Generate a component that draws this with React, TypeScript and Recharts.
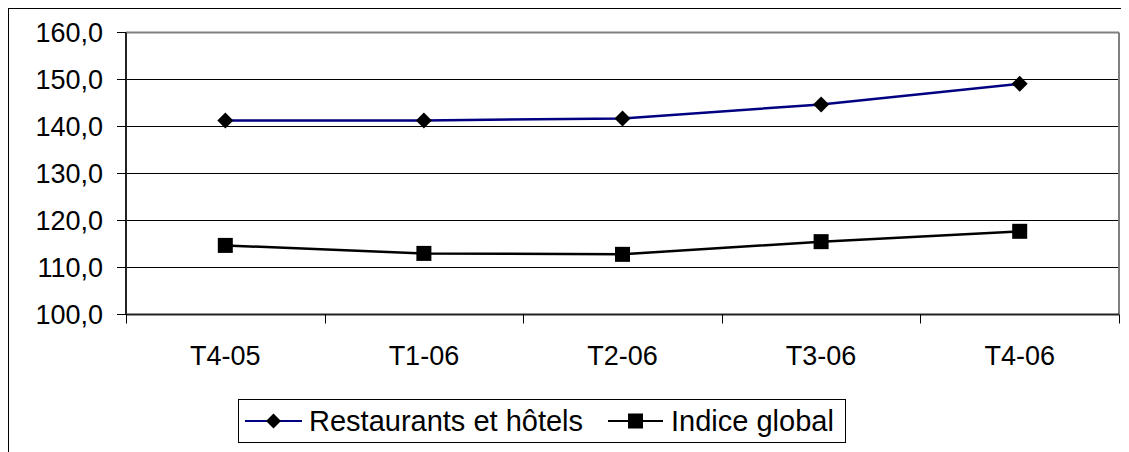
import React from "react";
import { LineChart, Line, XAxis, YAxis, CartesianGrid, ReferenceLine } from "recharts";

const categories = ["T4-05", "T1-06", "T2-06", "T3-06", "T4-06"];
const restaurantsValues = [141.3, 141.3, 141.7, 144.7, 149.1];
const globalValues = [114.7, 113.0, 112.8, 115.5, 117.7];
const yTicks = [100, 110, 120, 130, 140, 150, 160];
const seriesNames = ["Restaurants et hôtels", "Indice global"];

const data = categories.map((c, i) => ({
  cat: c,
  restaurants: restaurantsValues[i],
  global: globalValues[i],
}));

const FONT = "'Liberation Sans', Arial, sans-serif";

const fmt = (v: number) => v.toFixed(1).replace(".", ",");

const Diamond = (p: any) => {
  const { cx, cy, index } = p;
  if (cx == null || cy == null) return <g key={index} />;
  const r = 8;
  return (
    <path
      key={index}
      d={`M${cx},${cy - r}L${cx + r},${cy}L${cx},${cy + r}L${cx - r},${cy}Z`}
      fill="#000"
      stroke="none"
    />
  );
};

const Square = (p: any) => {
  const { cx, cy, index } = p;
  if (cx == null || cy == null) return <g key={index} />;
  const s = 7.5;
  return <rect key={index} x={cx - s} y={cy - s} width={2 * s} height={2 * s} fill="#000" stroke="none" />;
};

const XTick = (p: any) => {
  const { x, y, payload, index } = p;
  const off = payload && payload.offset != null ? payload.offset : 99.3;
  const last = index === categories.length - 1;
  const lx = Math.round(x - off) + 0.5;
  const rx = Math.round(x + off) + 0.5;
  return (
    <g>
      <line x1={lx} x2={lx} y1={y} y2={y + 9} stroke="#000" strokeWidth={1} />
      {last && <line x1={rx} x2={rx} y1={y} y2={y + 9} stroke="#000" strokeWidth={1} />}
      <text x={x} y={y + 50} textAnchor="middle" fontFamily={FONT} fontSize={27} fill="#000">
        {payload.value}
      </text>
    </g>
  );
};

export default function App() {
  return (
    <div
      style={{
        position: "relative",
        width: 1121,
        height: 444,
        boxSizing: "border-box",
        borderTop: "1px solid #000",
        borderLeft: "1px solid #000",
        fontFamily: FONT,
      }}
    >
      <div style={{ position: "absolute", left: -1, top: -1 }}>
        <LineChart
          width={1121}
          height={444}
          data={data}
          margin={{ top: 24.5, right: 10, bottom: 107.5, left: 0 }}
        >
          <CartesianGrid horizontal={true} vertical={false} stroke="#000" strokeWidth={1} />
          <XAxis
            dataKey="cat"
            scale="band"
            height={30}
            tickSize={0}
            tickMargin={0}
            tickLine={false}
            axisLine={{ stroke: "#222", strokeWidth: 2 }}
            tick={<XTick />}
            interval={0}
          />
          <YAxis
            width={118}
            domain={[100, 160]}
            ticks={yTicks}
            tickFormatter={fmt}
            tickSize={9}
            tickMargin={14}
            tickLine={{ stroke: "#000" }}
            axisLine={{ stroke: "#222", strokeWidth: 2 }}
            tick={{ fontFamily: FONT, fontSize: 27, fill: "#000" }}
            interval={0}
          />
          <ReferenceLine y={160} stroke="#808080" strokeWidth={2} ifOverflow="extendDomain" />
          <ReferenceLine x={categories[categories.length - 1]} position="end" stroke="#808080" strokeWidth={2} />
          <Line
            dataKey="restaurants"
            name={seriesNames[0]}
            stroke="#000080"
            strokeWidth={2.5}
            dot={Diamond}
            activeDot={false}
            isAnimationActive={false}
          />
          <Line
            dataKey="global"
            name={seriesNames[1]}
            stroke="#000"
            strokeWidth={2.5}
            dot={Square}
            activeDot={false}
            isAnimationActive={false}
          />
        </LineChart>
      </div>
      <div
        style={{
          position: "absolute",
          left: 229,
          top: 390,
          width: 608,
          height: 44,
          boxSizing: "border-box",
          border: "1px solid #000",
          background: "#fff",
          display: "flex",
          alignItems: "center",
          paddingLeft: 6,
          fontSize: 29,
          color: "#000",
          whiteSpace: "nowrap",
        }}
      >
        <svg width={57} height={16} style={{ display: "block" }}>
          <line x1={0} x2={57} y1={8} y2={8} stroke="#000080" strokeWidth={2} />
          <path d="M28.5,0.5L36,8L28.5,15.5L21,8Z" fill="#000" />
        </svg>
        <span style={{ marginLeft: 7, lineHeight: "44px" }}>{seriesNames[0]}</span>
        <svg width={55} height={16} style={{ display: "block", marginLeft: 25 }}>
          <line x1={0} x2={55} y1={8} y2={8} stroke="#000" strokeWidth={2} />
          <rect x={20} y={0.5} width={15} height={15} fill="#000" />
        </svg>
        <span style={{ marginLeft: 8, lineHeight: "44px" }}>{seriesNames[1]}</span>
      </div>
    </div>
  );
}
